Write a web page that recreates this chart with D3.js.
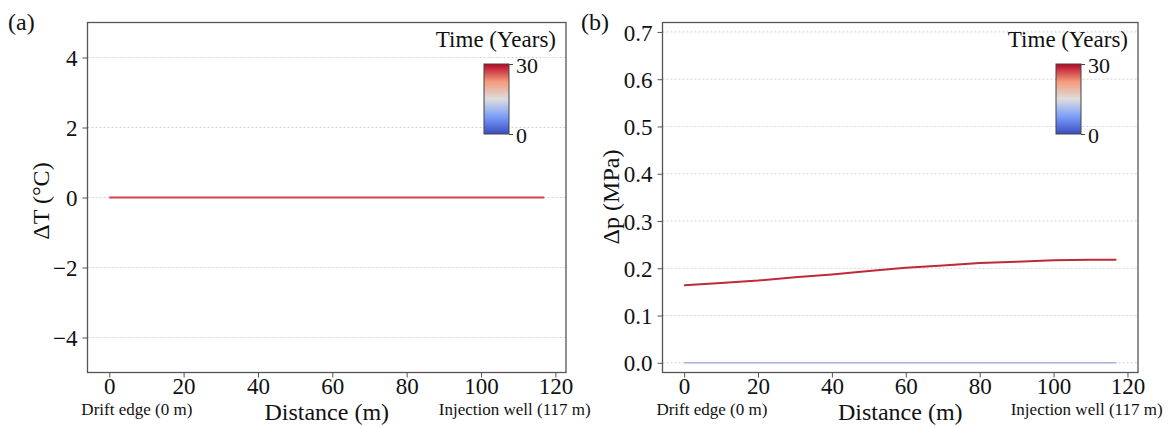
<!DOCTYPE html>
<html>
<head>
<meta charset="utf-8">
<script src="https://cdn.jsdelivr.net/npm/d3@7"></script>
<style>
  body { margin: 0; background: #fff; }
  svg text { font-family: "Liberation Serif", "Times New Roman", Times, serif !important; }
</style>
</head>
<body>
<svg id="chart" width="1168" height="427"></svg>
<script>
// ---- data ----
var distance = [0, 10, 20, 30, 40, 50, 60, 70, 80, 90, 100, 110, 117];
var dT30 = [0, 0, 0, 0, 0, 0, 0, 0, 0, 0, 0, 0, 0];
var dp0 = [0, 0, 0, 0, 0, 0, 0, 0, 0, 0, 0, 0, 0];
var dp30 = [0.164, 0.169, 0.174, 0.181, 0.187, 0.194, 0.201, 0.206, 0.211, 0.214, 0.217, 0.218, 0.218];
var xTicks = [0, 20, 40, 60, 80, 100, 120];
var tTicks = [-4, -2, 0, 2, 4];
var pTicks = [0.0, 0.1, 0.2, 0.3, 0.4, 0.5, 0.6, 0.7];
var timeRange = [0, 30];

var svg = d3.select("#chart");

// coolwarm-ish colormap
var coolwarm = d3.scaleLinear()
    .domain([0, 0.25, 0.5, 0.75, 1])
    .range(["#3b4cc0", "#7b9ff9", "#dddddd", "#f49a7b", "#b40426"]);

var defs = svg.append("defs");
var grad = defs.append("linearGradient")
    .attr("id", "cw")
    .attr("x1", 0).attr("y1", 1).attr("x2", 0).attr("y2", 0);
d3.range(0, 1.0001, 0.05).forEach(function(t) {
  grad.append("stop").attr("offset", t).attr("stop-color", coolwarm(t));
});

function panel(opt) {
  var g = svg.append("g");
  var x = d3.scaleLinear().domain([-5.85, 122.85]).range([opt.left, opt.right]);
  var y = d3.scaleLinear().domain(opt.ydom).range([opt.bottom, opt.top]);

  // grid
  g.append("g").selectAll("line")
    .data(opt.yticks)
    .enter().append("line")
      .attr("x1", opt.left).attr("x2", opt.right)
      .attr("y1", function(d) { return y(d); })
      .attr("y2", function(d) { return y(d); })
      .attr("stroke", "#c8c8c8")
      .attr("stroke-width", 0.8)
      .attr("stroke-dasharray", "2,2");

  // lines
  var line = d3.line()
      .x(function(d, i) { return x(distance[i]); })
      .y(function(d) { return y(d); });
  opt.series.forEach(function(s) {
    g.append("path")
      .datum(s.values)
      .attr("d", line)
      .attr("fill", "none")
      .attr("stroke", s.color)
      .attr("stroke-width", s.width);
  });

  // axes
  var xa = g.append("g")
      .attr("transform", "translate(0," + opt.bottom + ")")
      .call(d3.axisBottom(x).tickValues(xTicks).tickSize(5).tickFormat(d3.format("d")));
  var ya = g.append("g")
      .attr("transform", "translate(" + opt.left + ",0)")
      .call(d3.axisLeft(y).tickValues(opt.yticks).tickSize(5).tickPadding(5).tickFormat(opt.fmt));
  [xa, ya].forEach(function(a) {
    a.select(".domain").remove();
    a.selectAll("line").attr("stroke", "#555");
    a.selectAll("text").attr("font-size", 23).attr("fill", "#111");
  });
  xa.selectAll("text").attr("y", 21).attr("dy", 0);
  ya.selectAll("text").attr("dy", "0.35em");

  // frame
  g.append("rect")
    .attr("x", opt.left).attr("y", opt.top)
    .attr("width", opt.right - opt.left).attr("height", opt.bottom - opt.top)
    .attr("fill", "none").attr("stroke", "#555").attr("stroke-width", 1.3);

  // labels
  g.append("text")
    .attr("x", (opt.left + opt.right) / 2).attr("y", 420)
    .attr("text-anchor", "middle").attr("font-size", 24).attr("fill", "#111")
    .text("Distance (m)");
  g.append("text")
    .attr("transform", "translate(" + opt.ylabX + "," + opt.ylabY + ") rotate(-90)")
    .attr("text-anchor", "middle").attr("font-size", 24).attr("fill", "#111")
    .text(opt.ylabel);
  g.append("text")
    .attr("x", x(-7.5)).attr("y", 415)
    .attr("font-size", 17).attr("fill", "#111")
    .text("Drift edge (0 m)");
  g.append("text")
    .attr("x", x(129.5)).attr("y", 415)
    .attr("text-anchor", "end").attr("font-size", 17).attr("fill", "#111")
    .text("Injection well (117 m)");
  g.append("text")
    .attr("x", opt.tagX).attr("y", 30)
    .attr("font-size", 24).attr("fill", "#111")
    .text(opt.tag);

  // colorbar
  var cbRight = opt.right - 57, cbW = 25;
  var cy = d3.scaleLinear().domain(timeRange).range([134, 64]);
  g.append("text")
    .attr("x", opt.right - 10).attr("y", 47)
    .attr("text-anchor", "end").attr("font-size", 23).attr("fill", "#111")
    .text("Time (Years)");
  g.append("rect")
    .attr("x", cbRight - cbW).attr("y", cy(30))
    .attr("width", cbW).attr("height", cy(0) - cy(30))
    .attr("fill", "url(#cw)").attr("stroke", "#444").attr("stroke-width", 1);
  var ca = g.append("g")
    .attr("transform", "translate(" + cbRight + ",0)")
    .call(d3.axisRight(cy).tickValues(timeRange).tickSize(4).tickPadding(3));
  ca.select(".domain").remove();
  ca.selectAll("line").attr("stroke", "#444");
  ca.selectAll("text").attr("font-size", 22).attr("fill", "#111").attr("dy", "0.4em");
}

panel({
  left: 87.5, right: 566, top: 22.5, bottom: 372.5,
  ydom: [-5, 5], yticks: tTicks, fmt: d3.format("d"),
  ylabel: "ΔT (°C)", ylabX: 49, ylabY: 201, tag: "(a)", tagX: 8,
  series: [{values: dT30, color: "#d6404e", width: 2}]
});

panel({
  left: 662.5, right: 1138, top: 22.5, bottom: 372.5,
  ydom: [-0.0205, 0.72], yticks: pTicks, fmt: d3.format(".1f"),
  ylabel: "Δp (MPa)", ylabX: 619, ylabY: 197, tag: "(b)", tagX: 581,
  series: [{values: dp0, color: "#aab3dd", width: 1.6},
           {values: dp30, color: "#c1283a", width: 2}]
});
</script>
</body>
</html>
